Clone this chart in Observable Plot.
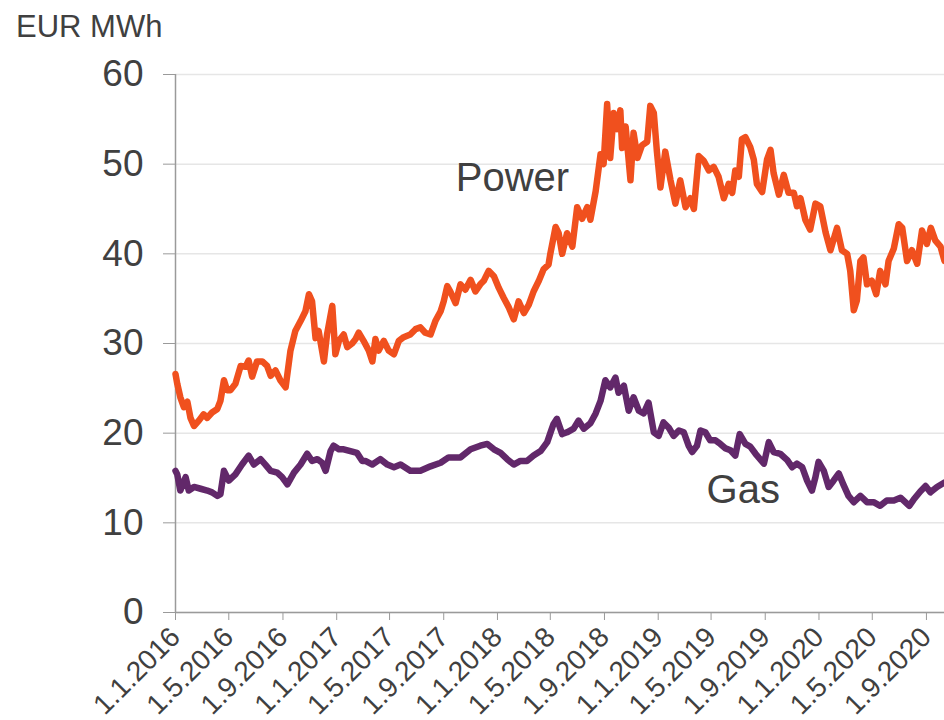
<!DOCTYPE html>
<html>
<head>
<meta charset="utf-8">
<script src="https://cdn.jsdelivr.net/npm/d3@7"></script>
<script src="https://cdn.jsdelivr.net/npm/@observablehq/plot@0.6"></script>
<style>
  html, body { margin: 0; padding: 0; background: #fff; }
  #wrap { position: relative; width: 944px; height: 720px; overflow: hidden; font-family: "Liberation Sans", Arial, sans-serif; }
  #unit { position: absolute; left: 16px; top: 11px; font-size: 31px; line-height: 1; color: #404040; }
</style>
</head>
<body>
<div id="wrap"><div id="unit">EUR MWh</div></div>
<script>
// Day offsets are days since 1.1.2016
const startDate = "2016-01-01";
const endDay = 1746;

const powerDays = [0,4,11,19,27,34,42,53,64,72,83,95,102,110,117,125,136,148,159,166,174,185,197,208,216,227,238,250,261,272,284,295,303,310,318,325,337,344,356,363,371,382,390,401,409,416,427,439,447,454,461,473,484,496,507,518,533,545,556,567,579,590,602,609,617,624,636,647,658,670,681,692,700,711,723,734,745,757,768,779,791,802,813,825,836,847,851,863,870,878,889,901,912,923,935,942,954,965,972,980,987,995,1003,1010,1014,1022,1033,1040,1049,1059,1071,1078,1086,1093,1101,1112,1124,1135,1146,1158,1169,1177,1188,1199,1211,1222,1233,1245,1256,1264,1271,1279,1286,1294,1305,1313,1320,1332,1343,1351,1358,1370,1381,1392,1404,1411,1419,1430,1441,1453,1464,1476,1487,1502,1513,1525,1532,1540,1547,1555,1562,1570,1581,1591,1600,1612,1619,1631,1642,1650,1661,1672,1684,1695,1706,1715,1725,1737,1746];
const powerValues = [26.6,25.5,24.0,22.9,23.5,21.7,20.8,21.4,22.1,21.7,22.3,22.7,23.6,25.9,24.8,24.8,25.5,27.5,27.4,28.1,26.3,28.0,28.0,27.5,26.4,27.0,25.9,25.1,29.2,31.4,32.5,33.6,35.5,34.7,30.6,31.4,28.0,31.0,34.2,28.8,30.3,31.0,29.6,30.0,30.5,31.2,30.3,29.2,28.0,30.5,29.2,30.3,29.2,28.8,30.3,30.7,31.0,31.6,31.8,31.2,31.0,32.5,33.6,34.7,36.4,35.8,34.5,36.6,36.0,37.1,35.8,36.6,37.0,38.1,37.5,36.2,35.1,34.0,32.7,34.7,33.4,34.3,35.8,37.0,38.3,38.8,40.0,43.0,42.3,40.0,42.3,40.8,45.2,43.9,45.2,43.8,47.0,51.1,50.0,56.7,50.7,55.7,53.9,56.0,51.8,54.2,48.2,53.5,50.7,52.1,52.5,56.5,55.7,51.4,47.4,51.4,48.2,45.6,48.2,45.2,46.2,45.0,50.9,50.4,49.3,49.7,48.6,46.2,47.8,46.8,49.3,48.6,52.8,53.0,51.9,50.5,47.8,46.9,50.5,51.6,49.0,46.6,48.8,46.8,46.8,45.3,46.2,43.8,42.7,45.6,45.3,42.4,40.4,42.9,40.4,40.0,38.1,33.7,34.8,39.2,39.6,36.6,37.0,35.5,38.1,36.6,39.2,40.6,43.3,42.9,39.2,40.4,38.9,42.6,41.1,42.9,41.5,40.8,39.2];

const gasDays = [0,4,11,23,30,42,57,72,83,95,102,110,121,136,151,166,178,193,204,216,231,242,254,269,284,299,310,322,333,341,352,359,371,382,397,412,424,431,447,465,481,496,511,533,556,579,602,620,647,670,692,708,723,738,753,768,783,798,813,829,844,851,858,866,878,889,904,915,927,942,954,965,976,987,999,1006,1018,1029,1040,1052,1063,1074,1086,1097,1108,1120,1131,1143,1154,1165,1173,1184,1192,1203,1214,1226,1237,1249,1260,1271,1281,1294,1305,1317,1336,1347,1358,1373,1389,1400,1411,1423,1434,1445,1453,1460,1472,1483,1494,1506,1517,1528,1540,1555,1570,1585,1600,1615,1631,1646,1657,1666,1676,1691,1703,1714,1729,1746];
const gasValues = [15.8,15.4,13.6,15.1,13.6,14.0,13.8,13.6,13.4,13.0,13.2,15.8,14.7,15.4,16.5,17.5,16.5,17.1,16.5,15.8,15.6,15.1,14.3,15.6,16.5,17.7,16.9,17.1,16.7,15.8,18.0,18.6,18.2,18.2,18.0,17.8,16.9,16.9,16.5,17.1,16.5,16.2,16.5,15.8,15.8,16.3,16.7,17.3,17.3,18.2,18.6,18.8,18.2,17.8,17.1,16.5,16.9,16.9,17.5,18.0,19.0,20.0,21.0,21.6,19.9,20.1,20.5,21.4,20.5,21.1,22.2,23.6,25.9,25.1,26.2,24.5,25.3,22.5,24.0,22.5,22.2,23.4,20.1,19.7,21.2,20.6,19.7,20.3,20.1,18.6,17.9,18.6,20.3,20.1,19.2,19.2,18.8,18.3,18.1,17.5,19.9,18.8,18.5,17.7,16.6,19.0,17.9,17.7,17.0,16.2,16.6,16.2,14.7,13.6,15.1,16.8,15.8,14.0,14.7,15.5,14.2,13.0,12.3,13.0,12.3,12.3,11.9,12.5,12.5,12.8,12.3,11.9,12.6,13.5,14.1,13.4,14.0,14.5];

const yTicks = [0, 10, 20, 30, 40, 50, 60];
const xTickDates = ["2016-01-01","2016-05-01","2016-09-01","2017-01-01","2017-05-01","2017-09-01","2018-01-01","2018-05-01","2018-09-01","2019-01-01","2019-05-01","2019-09-01","2020-01-01","2020-05-01","2020-09-01"];

const seriesNames = ["Power", "Gas"];
const labelDays = [765, 1289];
const labelValues = [48.4, 13.6];

const start = new Date(startDate + "T00:00:00Z");
const toDate = d => d3.utcDay.offset(start, d);
const power = powerDays.map((d, i) => ({date: toDate(d), value: powerValues[i]}));
const gas = gasDays.map((d, i) => ({date: toDate(d), value: gasValues[i]}));
const labels = seriesNames.map((s, i) => ({name: s, date: toDate(labelDays[i]), value: labelValues[i]}));
const xTicks = xTickDates.map(s => new Date(s + "T00:00:00Z"));
const fmt = d => `${d.getUTCDate()}.${d.getUTCMonth() + 1}.${d.getUTCFullYear()}`;

const chart = Plot.plot({
  width: 944,
  height: 720,
  marginTop: 74,
  marginBottom: 108,
  marginLeft: 175,
  marginRight: 0,
  style: {fontFamily: "'Liberation Sans', Arial, sans-serif", background: "transparent", overflow: "visible"},
  x: {type: "utc", domain: [start, toDate(endDay)]},
  y: {domain: [0, 60]},
  marks: [
    Plot.gridY({ticks: yTicks, stroke: "#e6e6e6", strokeOpacity: 1, strokeWidth: 1.5}),
    Plot.axisY({ticks: yTicks, tickSize: 12, tickPadding: 20, fontSize: 37, stroke: "#9a9a9a", fill: "#404040", label: null}),
    Plot.axisX({ticks: xTicks, tickFormat: fmt, tickSize: 8, tickPadding: 12, tickRotate: -45, fontSize: 28, stroke: "#9a9a9a", fill: "#404040", label: null}),
    Plot.ruleX([start], {stroke: "#9a9a9a", strokeWidth: 1.5}),
    Plot.ruleY([0], {stroke: "#9a9a9a", strokeWidth: 1.5}),
    Plot.line(power, {x: "date", y: "value", stroke: "#F0501E", strokeWidth: 6.5, strokeLinejoin: "round", strokeLinecap: "round"}),
    Plot.line(gas, {x: "date", y: "value", stroke: "#62286A", strokeWidth: 6.5, strokeLinejoin: "round", strokeLinecap: "round"}),
    Plot.text(labels, {x: "date", y: "value", text: "name", fontSize: 40, fill: "#404040"})
  ]
});
chart.style.position = "absolute";
chart.style.left = "0";
chart.style.top = "0";
document.getElementById("wrap").appendChild(chart);
</script>
</body>
</html>
